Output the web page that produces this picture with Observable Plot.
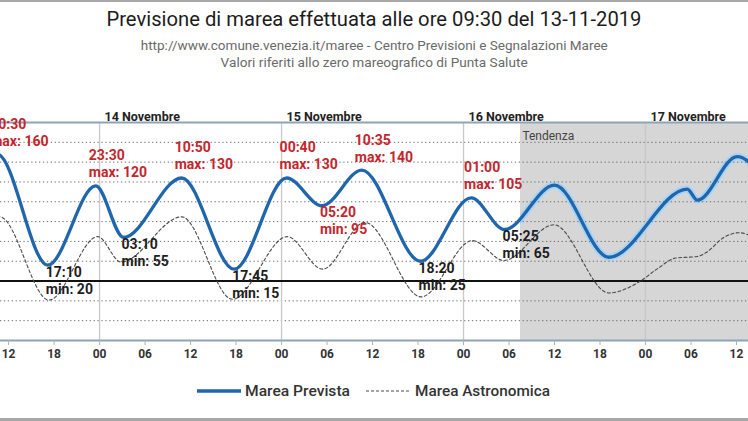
<!DOCTYPE html>
<html>
<head>
<meta charset="utf-8">
<script src="https://cdn.jsdelivr.net/npm/d3@7"></script>
<script src="https://cdn.jsdelivr.net/npm/@observablehq/plot@0.6"></script>
<style>
html, body { margin: 0; padding: 0; background: #fff; }
#wrap { position: relative; width: 748px; height: 421px; overflow: hidden; font-family: Roboto, sans-serif; background: #fff; }
#topline { position: absolute; left: 0; top: 0; width: 748px; height: 2px; background: #a8a8a8; }
#botline { position: absolute; left: 0; top: 418px; width: 748px; height: 3px; background: #a8a8a8; }
.line { position: absolute; left: 0; width: 748px; text-align: center; white-space: nowrap; }
.line span { display: inline-block; transform-origin: 50% 50%; }
#title { top: 7px; font-size: 21px; line-height: 24px; color: #1c1c1c; }
#sub1 { top: 37px; font-size: 13.5px; line-height: 16px; color: #6a6a6a; }
#sub2 { top: 54px; font-size: 13.5px; line-height: 16px; color: #6a6a6a; }
#chart { position: absolute; left: 0; top: 80px; }
#legend { position: absolute; left: 0; top: 381px; width: 748px; height: 20px; }
.leg { position: absolute; top: 0; font-size: 15px; line-height: 20px; color: #333; font-weight: 500; white-space: nowrap; transform-origin: 0 50%; }
.sw { position: absolute; }
</style>
</head>
<body>
<div id="wrap">
  <div id="topline"></div>
  <div class="line" id="title"><span></span></div>
  <div class="line" id="sub1"><span></span></div>
  <div class="line" id="sub2"><span></span></div>
  <div id="chart"></div>
  <div id="legend"></div>
  <div id="botline"></div>
</div>
<script>
// ---------- data ----------
const titleText = "Previsione di marea effettuata alle ore 09:30 del 13-11-2019";
const subtitleLines = [
  "http://www.comune.venezia.it/maree - Centro Previsioni e Segnalazioni Maree",
  "Valori riferiti allo zero mareografico di Punta Salute"
];

const domainStart = "2019-11-13T10:56Z";
const domainEnd = "2019-11-17T13:35Z";
const tendenzaStart = "2019-11-16T07:30Z";
const tendenzaLabel = "Tendenza";

// Marea Prevista (cm)
const prevTimes = [
  "2019-11-13T04:30Z", "2019-11-13T10:30Z", "2019-11-13T17:10Z", "2019-11-13T23:30Z",
  "2019-11-14T03:10Z", "2019-11-14T10:50Z", "2019-11-14T17:45Z", "2019-11-15T00:40Z",
  "2019-11-15T05:20Z", "2019-11-15T10:35Z", "2019-11-15T18:20Z", "2019-11-16T01:00Z",
  "2019-11-16T05:25Z", "2019-11-16T12:00Z", "2019-11-16T19:10Z", "2019-11-17T05:30Z",
  "2019-11-17T06:50Z", "2019-11-17T12:05Z", "2019-11-17T18:30Z"
];
const prevValues = [40, 160, 20, 120, 55, 130, 15, 130, 95, 140, 25, 105, 65, 121, 30, 116, 102, 157, 70];

// Marea Astronomica (cm)
const astroTimes = [
  "2019-11-13T04:30Z", "2019-11-13T10:50Z", "2019-11-13T17:20Z", "2019-11-13T23:45Z",
  "2019-11-14T02:50Z", "2019-11-14T10:50Z", "2019-11-14T17:30Z", "2019-11-15T00:45Z",
  "2019-11-15T05:25Z", "2019-11-15T11:00Z", "2019-11-15T18:25Z", "2019-11-16T01:10Z",
  "2019-11-16T05:20Z", "2019-11-16T11:55Z", "2019-11-16T19:10Z", "2019-11-16T23:20Z",
  "2019-11-17T01:30Z", "2019-11-17T04:00Z", "2019-11-17T06:50Z", "2019-11-17T08:00Z",
  "2019-11-17T10:20Z", "2019-11-17T12:20Z", "2019-11-17T18:30Z"
];
const astroValues = [-10, 81, -24, 56, 24, 81, -23, 56, 15, 74, -20, 51, 26, 71, -15, 0, 15, 29, 31, 36, 55, 61, 10];

// annotated extremes
const annTimes = [
  "2019-11-13T10:30Z", "2019-11-13T17:10Z", "2019-11-13T23:30Z", "2019-11-14T03:10Z",
  "2019-11-14T10:50Z", "2019-11-14T17:45Z", "2019-11-15T00:40Z", "2019-11-15T05:20Z",
  "2019-11-15T10:35Z", "2019-11-15T18:20Z", "2019-11-16T01:00Z", "2019-11-16T05:25Z"
];
const annValues = [160, 20, 120, 55, 130, 15, 130, 95, 140, 25, 105, 65];
const annKinds = ["max", "min", "max", "min", "max", "min", "max", "min", "max", "min", "max", "min"];
const alertLevel = 90;

const dayStarts = ["2019-11-14T00:00Z", "2019-11-15T00:00Z", "2019-11-16T00:00Z", "2019-11-17T00:00Z"];
const dayLabels = ["14 Novembre", "15 Novembre", "16 Novembre", "17 Novembre"];

const gridValues = [-50, -25, 25, 50, 75, 100, 125, 150, 175];
const yMin = -75, yMax = 200;

const legendLabels = ["Marea Prevista", "Marea Astronomica"];

// ---------- build ----------
const RED = "#c4262e", DARK = "#1e1e1e", BLUE = "#1f66ad";
const xStart = new Date(domainStart), xEnd = new Date(domainEnd), tS = new Date(tendenzaStart);
const prev = prevTimes.map((t, i) => ({t: new Date(t), v: prevValues[i]}));
const astro = astroTimes.map((t, i) => ({t: new Date(t), v: astroValues[i]}));
const ann = annTimes.map((t, i) => ({t: new Date(t), v: annValues[i], kind: annKinds[i]}));
const maxima = ann.filter(d => d.kind === "max");
const minima = ann.filter(d => d.kind === "min");
const days = dayStarts.map((t, i) => ({t: new Date(t), label: dayLabels[i]}));
const hm = d3.utcFormat("%H:%M");
const col = d => d.v >= alertLevel ? RED : DARK;
const annStyle = {x: "t", y: "v", textAnchor: "start", fontSize: 14, fontWeight: "bold", fill: col};

const chart = Plot.plot({
  width: 748, height: 290,
  marginTop: 42, marginBottom: 30, marginLeft: 0, marginRight: 0,
  style: {fontFamily: "Roboto, sans-serif", background: "transparent"},
  x: {type: "utc", domain: [xStart, xEnd]},
  y: {domain: [yMin, yMax], axis: null},
  color: {type: "identity"},
  marks: [
    Plot.rect([0], {x1: () => tS, x2: () => xEnd, y1: () => yMin, y2: () => yMax, fill: "#d6d6d6"}),
    Plot.line(prev, {x: "t", y: "v", curve: "monotone-x", stroke: "#a9d3f5", strokeWidth: 7, clip: true}),
    Plot.rect([0], {x1: () => xStart, x2: () => tS, y1: () => yMin, y2: () => yMax, fill: "#ffffff"}),
    Plot.ruleY(gridValues, {stroke: "#6c6c6c", strokeWidth: 1, strokeDasharray: "1.3,2.6"}),
    Plot.ruleX(days, {x: "t", y1: yMin, y2: yMax, stroke: "#c8c8c8", strokeWidth: 1.3}),
    Plot.ruleY([0], {stroke: "#111", strokeWidth: 2}),
    Plot.ruleY([yMin, yMax], {stroke: "#8ea3b4", strokeWidth: 2}),
    Plot.axisX({ticks: d3.utcHour.every(6), tickFormat: d3.utcFormat("%H"), tickSize: 5, tickPadding: 4,
      stroke: "#b0b0b0", fill: "#333", fontSize: 12, fontWeight: "bold", label: null}),
    Plot.text(days, {x: "t", text: "label", frameAnchor: "top", dy: -10, dx: 5, textAnchor: "start",
      fontSize: 12.5, fontWeight: "bold", fill: "#222"}),
    Plot.text([tendenzaLabel], {x: () => tS, text: d => d, frameAnchor: "top", dy: 9, dx: 2, textAnchor: "start",
      fontSize: 12, fill: "#444"}),
    Plot.line(astro, {x: "t", y: "v", curve: "monotone-x", stroke: "#4a4a4a", strokeWidth: 1.1, strokeDasharray: "3,2.4", clip: true}),
    Plot.line(prev, {x: "t", y: "v", curve: "monotone-x", stroke: BLUE, strokeWidth: 3.3, clip: true}),
    Plot.text(maxima, {...annStyle, text: d => hm(d.t), dx: -7, dy: -30}),
    Plot.text(maxima, {...annStyle, text: d => "max: " + d.v, dx: -7, dy: -13}),
    Plot.text(minima, {...annStyle, text: d => hm(d.t), dx: -2, dy: 7}),
    Plot.text(minima, {...annStyle, text: d => "min: " + d.v, dx: -2, dy: 24})
  ]
});
document.getElementById("chart").appendChild(chart);

// header text, squeezed to the reference's condensed widths
function fitSpan(id, text, target) {
  const span = document.querySelector("#" + id + " span");
  span.textContent = text;
  const w = span.getBoundingClientRect().width;
  if (w > 0) span.style.transform = "scaleX(" + (target / w) + ")";
}
fitSpan("title", titleText, 535);
fitSpan("sub1", subtitleLines[0], 467);
fitSpan("sub2", subtitleLines[1], 307);

// legend
const legend = document.getElementById("legend");
const ns = "http://www.w3.org/2000/svg";
function swatch(left, dashed) {
  const s = document.createElementNS(ns, "svg");
  s.setAttribute("width", 44); s.setAttribute("height", 20);
  s.setAttribute("class", "sw"); s.style.left = left + "px"; s.style.top = "0px";
  const l = document.createElementNS(ns, "line");
  l.setAttribute("x1", 0); l.setAttribute("x2", 44); l.setAttribute("y1", 10); l.setAttribute("y2", 10);
  if (dashed) { l.setAttribute("stroke", "#4a4a4a"); l.setAttribute("stroke-width", 1.2); l.setAttribute("stroke-dasharray", "3,2"); }
  else { l.setAttribute("stroke", BLUE); l.setAttribute("stroke-width", 3.3); }
  s.appendChild(l); legend.appendChild(s);
}
function legText(left, text, target) {
  const d = document.createElement("div");
  d.className = "leg"; d.style.left = left + "px"; d.textContent = text;
  legend.appendChild(d);
  const w = d.getBoundingClientRect().width;
  if (w > 0) d.style.transform = "scaleX(" + (target / w) + ")";
}
swatch(197, false);
legText(245, legendLabels[0], 105);
swatch(366, true);
legText(415, legendLabels[1], 135);
</script>
</body>
</html>
